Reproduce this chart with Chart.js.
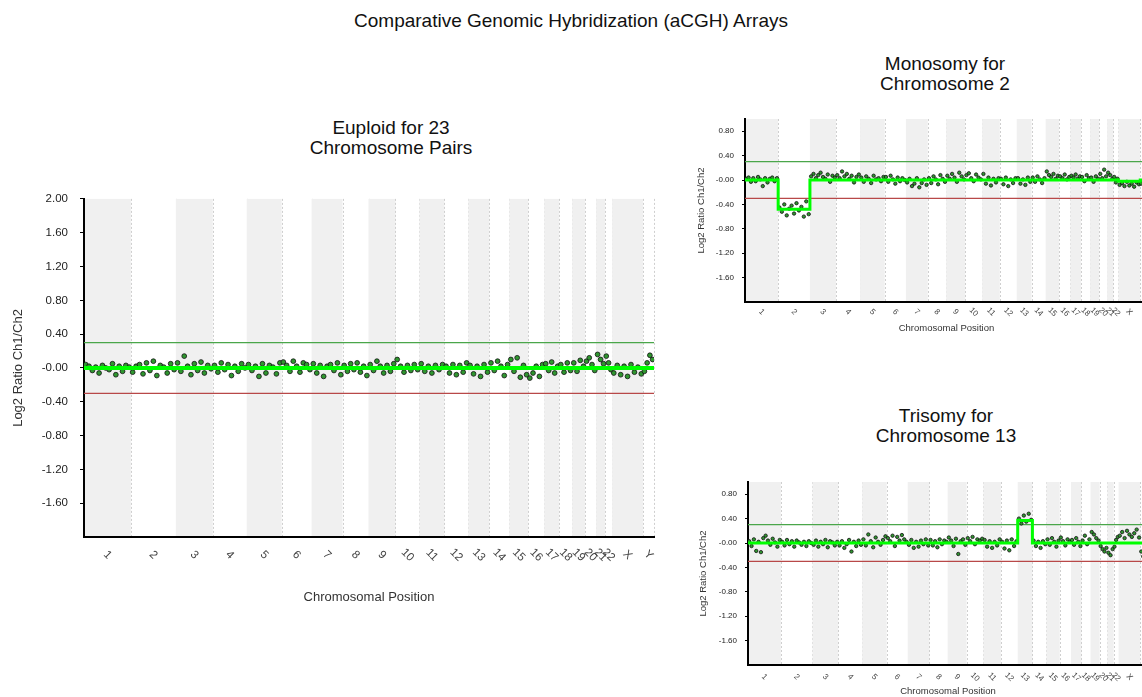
<!DOCTYPE html>
<html>
<head>
<meta charset="utf-8">
<title>Comparative Genomic Hybridization (aCGH) Arrays</title>
<script src="https://cdn.jsdelivr.net/npm/chart.js@4.4.1/dist/chart.umd.min.js"></script>
<style>
body{margin:0;width:1142px;height:697px;overflow:hidden;background:#fff;position:relative;font-family:"Liberation Sans",Arial,sans-serif;}
.ttl{position:absolute;text-align:center;color:#111;font-size:19px;line-height:20px;white-space:nowrap;}
canvas{position:absolute;}
</style>
</head>
<body>
<div class="ttl" style="left:0;width:1142px;top:11px">Comparative Genomic Hybridization (aCGH) Arrays</div>
<div class="ttl" style="left:291px;width:200px;top:118px">Euploid for 23<br>Chromosome Pairs</div>
<div class="ttl" style="left:845px;width:200px;top:54px">Monosomy for<br>Chromosome 2</div>
<div class="ttl" style="left:846px;width:200px;top:406px">Trisomy for<br>Chromosome 13</div>
<canvas id="euploid" width="670" height="430" style="left:0;top:180px"></canvas>
<canvas id="monosomy" width="470" height="240" style="left:690px;top:100px"></canvas>
<canvas id="trisomy" width="470" height="232" style="left:690px;top:465px"></canvas>
<script>
var chromNames = ['1','2','3','4','5','6','7','8','9','10','11','12','13','14','15','16','17','18','19','20','21','22','X','Y'];
var chromLengths = [235,225,185,170,175,150,155,130,135,120,125,120,105,100,95,80,75,65,65,55,45,35,155,55];

var yTicksBig = [2.0,1.6,1.2,0.8,0.4,0,-0.4,-0.8,-1.2,-1.6];
var yTicksSmall = [0.8,0.4,0,-0.4,-0.8,-1.2,-1.6];
var gainLine = 0.3;
var lossLine = -0.3;

// log2 ratios per chromosome
var euploidValues = [
 [0.04,0.02,-0.03,0.01,-0.06,0.03,0.00,-0.02,0.05,-0.08,0.02,-0.04,0.03,0.01],
 [-0.05,0.02,0.04,-0.07,0.06,-0.03,0.08,-0.09,0.03,0.01,-0.06,0.05,-0.02],
 [0.06,-0.04,0.14,0.02,-0.08,0.05,-0.03,0.07,-0.06,0.03,-0.01],
 [0.03,-0.05,0.06,-0.02,0.04,-0.09,0.02,-0.04,0.05,0.00],
 [0.04,-0.03,0.02,-0.10,0.05,-0.06,0.03,0.01,-0.07,0.06],
 [0.07,0.03,-0.04,0.08,0.02,-0.05,0.06,0.04,-0.02],
 [0.05,-0.06,0.03,-0.10,0.02,0.04,-0.03,0.06,-0.08],
 [0.03,-0.04,0.05,-0.02,0.06,-0.05,0.02,-0.09],
 [0.04,-0.03,0.08,0.02,-0.06,0.03,-0.04,0.05],
 [0.10,0.02,-0.05,0.03,-0.03,0.04,-0.02],
 [0.05,-0.04,0.02,-0.06,0.03,-0.02,0.04],
 [0.02,-0.06,0.04,-0.08,0.03,-0.05,0.06],
 [0.03,-0.07,0.02,-0.10,0.04,-0.05],
 [0.06,-0.03,0.08,0.02,-0.09,0.04],
 [0.10,-0.04,0.12,-0.11,0.03,-0.08],
 [-0.12,-0.06,0.02,-0.10,0.04],
 [0.05,-0.03,0.07,-0.06,0.02],
 [0.04,-0.05,0.06,-0.03],
 [0.06,-0.04,0.09,0.02],
 [0.08,0.12,0.04,-0.03],
 [0.16,0.10,0.05],
 [0.14,0.06,-0.02],
 [-0.06,0.03,-0.08,0.02,-0.10,0.04,-0.05,0.01,-0.07],
 [-0.04,0.06,0.15,0.10]
];
var monosomyValues = [
 [0.02,0.04,-0.03,0.03,-0.02,0.05,0.01,-0.10,0.03,-0.04,0.02,0.04,-0.02,0.03],
 [-0.45,-0.52,-0.40,-0.58,-0.47,-0.42,-0.55,-0.38,-0.50,-0.44,-0.60,-0.35,-0.56],
 [0.06,0.10,0.03,0.08,0.12,0.05,0.02,0.09,-0.03,0.07,0.04],
 [0.08,0.03,0.14,0.06,0.10,0.02,0.07,-0.04,0.05,0.09],
 [0.04,-0.03,0.06,0.02,-0.05,0.07,0.01,0.03,-0.02,0.05],
 [0.05,-0.03,0.07,0.01,-0.06,0.04,-0.02,0.03,0.00],
 [-0.04,0.02,-0.10,-0.06,0.03,-0.12,-0.05,0.01,-0.08],
 [0.03,-0.05,0.06,0.01,-0.07,0.08,0.02,-0.03],
 [0.07,0.02,0.10,0.04,-0.03,0.12,0.06,0.01],
 [0.08,0.11,0.03,-0.02,0.09,0.04,0.01],
 [0.10,-0.06,0.04,-0.09,0.02,-0.04,0.03],
 [0.02,-0.07,0.04,-0.10,0.01,-0.05,0.03],
 [0.03,-0.06,0.01,-0.08,0.04,-0.03],
 [0.04,-0.03,0.06,0.01,-0.05,0.03],
 [0.14,0.08,0.05,0.10,0.02,0.07],
 [0.06,0.03,0.09,0.01,0.05],
 [0.07,0.04,0.09,0.02,0.06],
 [0.05,-0.02,0.08,0.03],
 [0.04,-0.03,0.06,0.02],
 [0.10,0.03,0.17,0.06],
 [0.12,0.08,0.02],
 [0.05,-0.04,0.02],
 [-0.08,-0.05,-0.10,-0.03,-0.09,-0.06,-0.11,-0.04,-0.07],
 [-0.06,-0.02,-0.08,-0.04]
];
var trisomyValues = [
 [0.03,-0.05,0.06,-0.13,0.02,-0.15,0.08,0.12,0.04,-0.03,0.07,0.01,-0.06,0.05],
 [0.02,-0.04,0.05,-0.02,0.03,-0.06,0.04,0.01,-0.03,0.02,-0.05,0.03,0.00],
 [-0.03,0.04,-0.06,0.02,-0.02,0.05,-0.07,0.03,0.01,-0.04,0.02],
 [-0.04,0.03,-0.08,-0.02,0.05,-0.14,0.02,-0.05,0.04,-0.03],
 [0.06,-0.04,0.14,0.03,-0.07,0.09,0.02,-0.03,0.05,0.11],
 [0.08,0.03,0.12,-0.05,0.10,0.04,0.13,0.06,0.02],
 [-0.03,0.05,-0.08,0.02,-0.06,0.04,-0.02,0.06,-0.04],
 [0.05,-0.04,0.03,-0.07,0.06,-0.02,0.04,0.02],
 [0.09,0.04,-0.05,0.07,-0.18,0.03,0.06,-0.03],
 [0.08,0.03,0.10,-0.02,0.06,0.04,0.07],
 [0.05,-0.06,0.03,-0.08,0.02,-0.04,0.06],
 [0.02,-0.09,0.04,-0.12,0.06,-0.05,0.03],
 [0.40,0.32,0.45,0.35,0.48,0.38],
 [0.04,-0.05,0.02,-0.08,0.03,-0.02],
 [0.06,-0.03,0.08,0.02,-0.06,0.04],
 [0.09,0.03,-0.04,0.06,0.02],
 [0.05,-0.03,0.08,0.02,-0.05],
 [0.04,0.12,-0.02,0.06],
 [0.18,0.14,0.08,0.04],
 [-0.05,-0.10,-0.14,-0.08],
 [-0.16,-0.20,-0.10],
 [-0.06,0.05,0.10],
 [0.12,0.18,0.08,0.20,0.14,0.10,0.16,0.22,0.09],
 [-0.14,-0.22,-0.28,-0.10]
];

// segment means per chromosome (bright green line)
var euploidSegments = [0,0,0,0,0,0,0,0,0,0,0,0,0,0,0,0,0,0,0,0,0,0,0,0];
var monosomySegments = [0,-0.48,0,0,0,0,0,0,0,0,0,0,0,0,0,0,0,0,0,0,0,0,-0.02,0];
var trisomySegments = [0,0,0,0,0,0,0,0,0,0,0,0,0.37,0,0,0,0,0,0,0,0,0,0,0];

var chromStarts = [];
var total = 0;
chromLengths.forEach(function (len) { chromStarts.push(total); total += len; });
var chromCenters = chromStarts.map(function (s, i) { return s + chromLengths[i] / 2; });

Chart.defaults.font.family = '"Liberation Sans", Arial, sans-serif';
Chart.defaults.color = '#222';

// grey/white chromosome bands, dotted borders, and slanted chromosome names
var bandPlugin = {
  id: 'bands',
  beforeDraw: function (chart) {
    var ctx = chart.ctx, area = chart.chartArea, x = chart.scales.x;
    ctx.save();
    chromStarts.forEach(function (s, i) {
      var x0 = x.getPixelForValue(s), x1 = x.getPixelForValue(s + chromLengths[i]);
      if (i % 2 === 0) {
        ctx.fillStyle = '#f0f0f0';
        ctx.fillRect(x0, area.top, x1 - x0, area.bottom - area.top);
      }
      ctx.strokeStyle = '#cfcfcf';
      ctx.lineWidth = 1;
      ctx.setLineDash([2, 2]);
      ctx.beginPath();
      ctx.moveTo(Math.round(x1) + 0.5, area.top);
      ctx.lineTo(Math.round(x1) + 0.5, area.bottom);
      ctx.stroke();
    });
    ctx.restore();
  },
  afterDraw: function (chart, args, opts) {
    var ctx = chart.ctx, x = chart.scales.x, y0 = chart.chartArea.bottom + opts.offset;
    ctx.save();
    ctx.fillStyle = '#444';
    ctx.font = opts.size + 'px "Liberation Sans", Arial, sans-serif';
    ctx.textAlign = 'center';
    ctx.textBaseline = 'middle';
    chromCenters.forEach(function (c, i) {
      ctx.save();
      ctx.translate(x.getPixelForValue(c), y0);
      ctx.rotate(Math.PI / 4);
      ctx.fillText(chromNames[i], 0, 0);
      ctx.restore();
    });
    ctx.restore();
  }
};

makePoints = function (values) {
  var pts = [];
  values.forEach(function (row, i) {
    row.forEach(function (v, j) {
      pts.push({x: chromStarts[i] + (j + 0.5) * chromLengths[i] / row.length, y: v});
    });
  });
  return pts;
}

makeSegments = function (segs) {
  var pts = [];
  segs.forEach(function (v, i) {
    pts.push({x: chromStarts[i], y: v});
    pts.push({x: chromStarts[i] + chromLengths[i], y: v});
  });
  return pts;
}

drawCgh = function (id, values, segs, o) {
  new Chart(document.getElementById(id).getContext('2d'), {
    type: 'scatter',
    data: {
      datasets: [
        {type: 'line', data: makeSegments(segs), borderColor: '#00ff00', borderWidth: o.segWidth, pointRadius: 0, order: 0},
        {data: makePoints(values), backgroundColor: '#2f962f', borderColor: '#111', borderWidth: 0.8, pointRadius: o.radius, order: 1},
        {type: 'line', data: [{x: 0, y: gainLine}, {x: total, y: gainLine}], borderColor: '#4aa64a', borderWidth: 1.2, pointRadius: 0, order: 2},
        {type: 'line', data: [{x: 0, y: lossLine}, {x: total, y: lossLine}], borderColor: '#b84848', borderWidth: 1.2, pointRadius: 0, order: 2}
      ]
    },
    options: {
      responsive: false,
      animation: false,
      events: [],
      layout: {padding: o.padding},
      plugins: {
        legend: {display: false},
        tooltip: {enabled: false},
        bands: {size: o.tickSize, offset: o.labelOffset}
      },
      scales: {
        x: {
          type: 'linear', min: 0, max: total,
          grid: {display: false},
          border: {color: '#000', width: 2},
          afterFit: function (s) { s.height = o.xHeight; },
          afterBuildTicks: function (s) { s.ticks = chromCenters.map(function (c) { return {value: c}; }); },
          ticks: {display: false},
          title: {display: true, text: 'Chromosomal Position', font: {size: o.titleSize}, color: '#333', padding: {top: 0, bottom: o.xTitlePad}}
        },
        y: {
          min: -2, max: o.yMax,
          grid: {drawOnChartArea: false, drawTicks: true, tickLength: o.tickLen, color: '#000'},
          border: {color: '#000', width: 2},
          afterFit: function (s) { s.width = o.yWidth; },
          afterBuildTicks: function (s) { s.ticks = o.yTicks.map(function (v) { return {value: v}; }); },
          ticks: {
            padding: o.yPad, font: {size: o.tickSize}, color: '#222',
            callback: function (v) { return v === 0 ? '-0.00' : v.toFixed(2); }
          },
          title: {display: true, text: 'Log2 Ratio Ch1/Ch2', font: {size: o.titleSize}, color: '#333', padding: {top: o.yTitlePad, bottom: 0}}
        }
      }
    },
    plugins: [bandPlugin]
  });
}

drawCgh('euploid', euploidValues, euploidSegments, {
  yMax: 2, yTicks: yTicksBig, radius: 2.4, segWidth: 4,
  padding: {top: 10, right: 16, bottom: 5, left: 0},
  xHeight: 68, yWidth: 84, tickSize: 11.5, titleSize: 13, tickLen: 4, yPad: 12,
  labelOffset: 18, xTitlePad: 0, yTitlePad: 11
});
drawCgh('monosomy', monosomyValues, monosomySegments, {
  yMax: 1, yTicks: yTicksSmall, radius: 1.7, segWidth: 3,
  padding: {top: 19, right: 12, bottom: 0, left: 0},
  xHeight: 38, yWidth: 55, tickSize: 8, titleSize: 9.5, tickLen: 3, yPad: 8,
  labelOffset: 10, xTitlePad: 6, yTitlePad: 6
});
drawCgh('trisomy', trisomyValues, trisomySegments, {
  yMax: 1, yTicks: yTicksSmall, radius: 1.7, segWidth: 3,
  padding: {top: 17, right: 12, bottom: 0, left: 0},
  xHeight: 32, yWidth: 58, tickSize: 8, titleSize: 9.5, tickLen: 3, yPad: 8,
  labelOffset: 12, xTitlePad: 0, yTitlePad: 8
});
</script>
</body>
</html>
